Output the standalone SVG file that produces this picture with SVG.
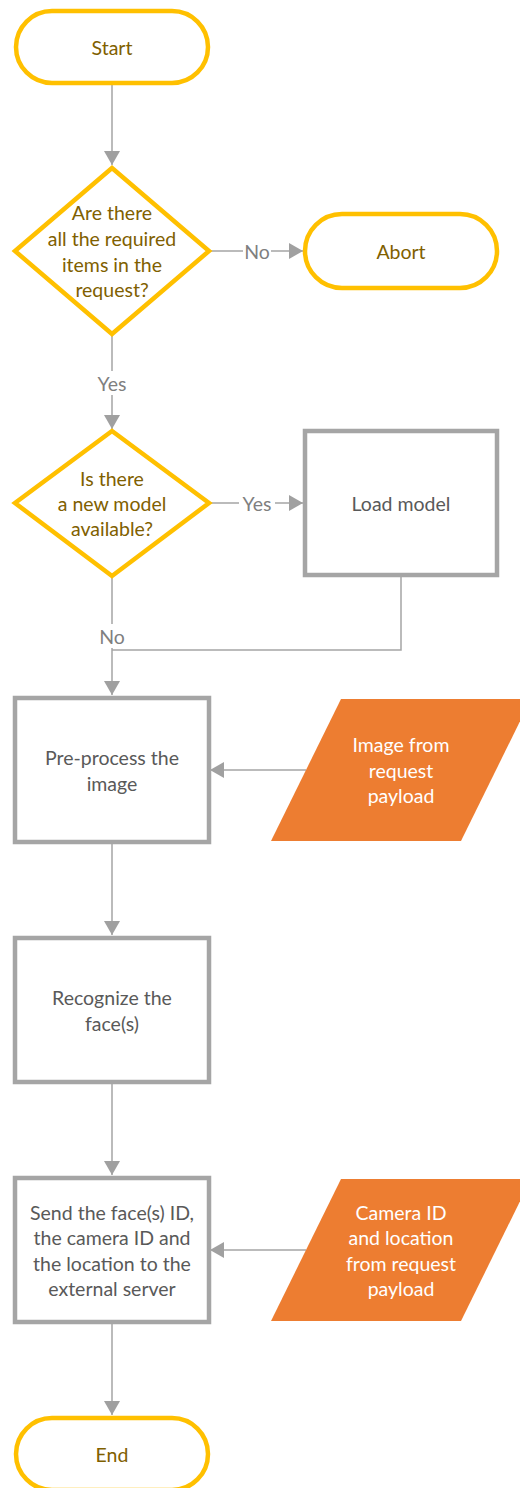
<svg xmlns="http://www.w3.org/2000/svg" width="520" height="1488" viewBox="0 0 520 1488">
  <defs>
    <marker id="arrow" markerUnits="userSpaceOnUse" markerWidth="16" markerHeight="16" refX="14" refY="8" orient="auto">
      <path d="M0,0 L14,8 L0,16 Z" fill="#A0A0A0"/>
    </marker>
    <style>
      text { font-family: Lato, "Liberation Sans", sans-serif; font-size: 19.5px; text-anchor: middle; dominant-baseline: central; }
      .term, .decision { fill: #FFFFFF; stroke: #FFC000; stroke-width: 4.5; }
      .process { fill: #FFFFFF; stroke: #A5A5A5; stroke-width: 4.5; }
      .data { fill: #ED7D31; }
      .gold { fill: #7F6000; }
      .grey { fill: #595959; }
      .white { fill: #FFFFFF; }
      .edge { fill: none; stroke: #A5A5A5; stroke-width: 1.5; }
      .label { fill: #7F7F7F; }
      .lblbg { fill: #FFFFFF; }
    </style>
  </defs>

  <!-- connectors -->
  <g id="connectors">
    <path class="edge" d="M112,83 V165" marker-end="url(#arrow)"/>
    <path class="edge" d="M210,251 H303" marker-end="url(#arrow)"/>
    <path class="edge" d="M112,334 V429" marker-end="url(#arrow)"/>
    <path class="edge" d="M210,503 H303" marker-end="url(#arrow)"/>
    <path class="edge" d="M112,576 V695" marker-end="url(#arrow)"/>
    <path class="edge" d="M401,577 V650 H112"/>
    <path class="edge" d="M306,770 H210" marker-end="url(#arrow)"/>
    <path class="edge" d="M112,843 V935" marker-end="url(#arrow)"/>
    <path class="edge" d="M112,1082 V1175" marker-end="url(#arrow)"/>
    <path class="edge" d="M306,1250 H210" marker-end="url(#arrow)"/>
    <path class="edge" d="M112,1323 V1415" marker-end="url(#arrow)"/>
    <!-- branch labels -->
    <rect class="lblbg" x="243" y="240" width="28" height="22"/>
    <text class="label" x="257" y="251">No</text>
    <rect class="lblbg" x="94" y="371" width="36" height="24"/>
    <text class="label" x="112" y="383">Yes</text>
    <rect class="lblbg" x="239" y="492" width="36" height="22"/>
    <text class="label" x="257" y="503">Yes</text>
    <rect class="lblbg" x="96" y="624" width="32" height="24"/>
    <text class="label" x="112" y="636">No</text>
  </g>

  <g id="start">
    <rect class="term" x="16" y="11" width="192" height="72" rx="36"/>
    <text class="gold" x="112" y="47">Start</text>
  </g>

  <g id="check-items">
    <polygon class="decision" points="112,168 209,251 112,334 15,251"/>
    <text class="gold" x="112" y="212">Are there</text>
    <text class="gold" x="112" y="238">all the required</text>
    <text class="gold" x="112" y="264">items in the</text>
    <text class="gold" x="112" y="289">request?</text>
  </g>

  <g id="abort">
    <rect class="term" x="305" y="214" width="192" height="74" rx="37"/>
    <text class="gold" x="401" y="251">Abort</text>
  </g>

  <g id="check-model">
    <polygon class="decision" points="112,431 209,503 112,576 15,503"/>
    <text class="gold" x="112" y="478">Is there</text>
    <text class="gold" x="112" y="503">a new model</text>
    <text class="gold" x="112" y="528">available?</text>
  </g>

  <g id="load-model">
    <rect class="process" x="305" y="431" width="192" height="144"/>
    <text class="grey" x="401" y="503">Load model</text>
  </g>

  <g id="preprocess">
    <rect class="process" x="15" y="698" width="194" height="144"/>
    <text class="grey" x="112" y="757">Pre-process the</text>
    <text class="grey" x="112" y="783">image</text>
  </g>

  <g id="image-input">
    <polygon class="data" points="341,699 531,699 461,841 271,841"/>
    <text class="white" x="401" y="744">Image from</text>
    <text class="white" x="401" y="770">request</text>
    <text class="white" x="401" y="795">payload</text>
  </g>

  <g id="recognize">
    <rect class="process" x="15" y="938" width="194" height="144"/>
    <text class="grey" x="112" y="997">Recognize the</text>
    <text class="grey" x="112" y="1023">face(s)</text>
  </g>

  <g id="send">
    <rect class="process" x="15" y="1178" width="194" height="144"/>
    <text class="grey" x="112" y="1212">Send the face(s) ID,</text>
    <text class="grey" x="112" y="1237">the camera ID and</text>
    <text class="grey" x="112" y="1263">the location to the</text>
    <text class="grey" x="112" y="1288">external server</text>
  </g>

  <g id="camera-input">
    <polygon class="data" points="341,1179 531,1179 461,1321 271,1321"/>
    <text class="white" x="401" y="1212">Camera ID</text>
    <text class="white" x="401" y="1237">and location</text>
    <text class="white" x="401" y="1263">from request</text>
    <text class="white" x="401" y="1288">payload</text>
  </g>

  <g id="end">
    <rect class="term" x="16" y="1418" width="192" height="72" rx="36"/>
    <text class="gold" x="112" y="1454">End</text>
  </g>
</svg>
